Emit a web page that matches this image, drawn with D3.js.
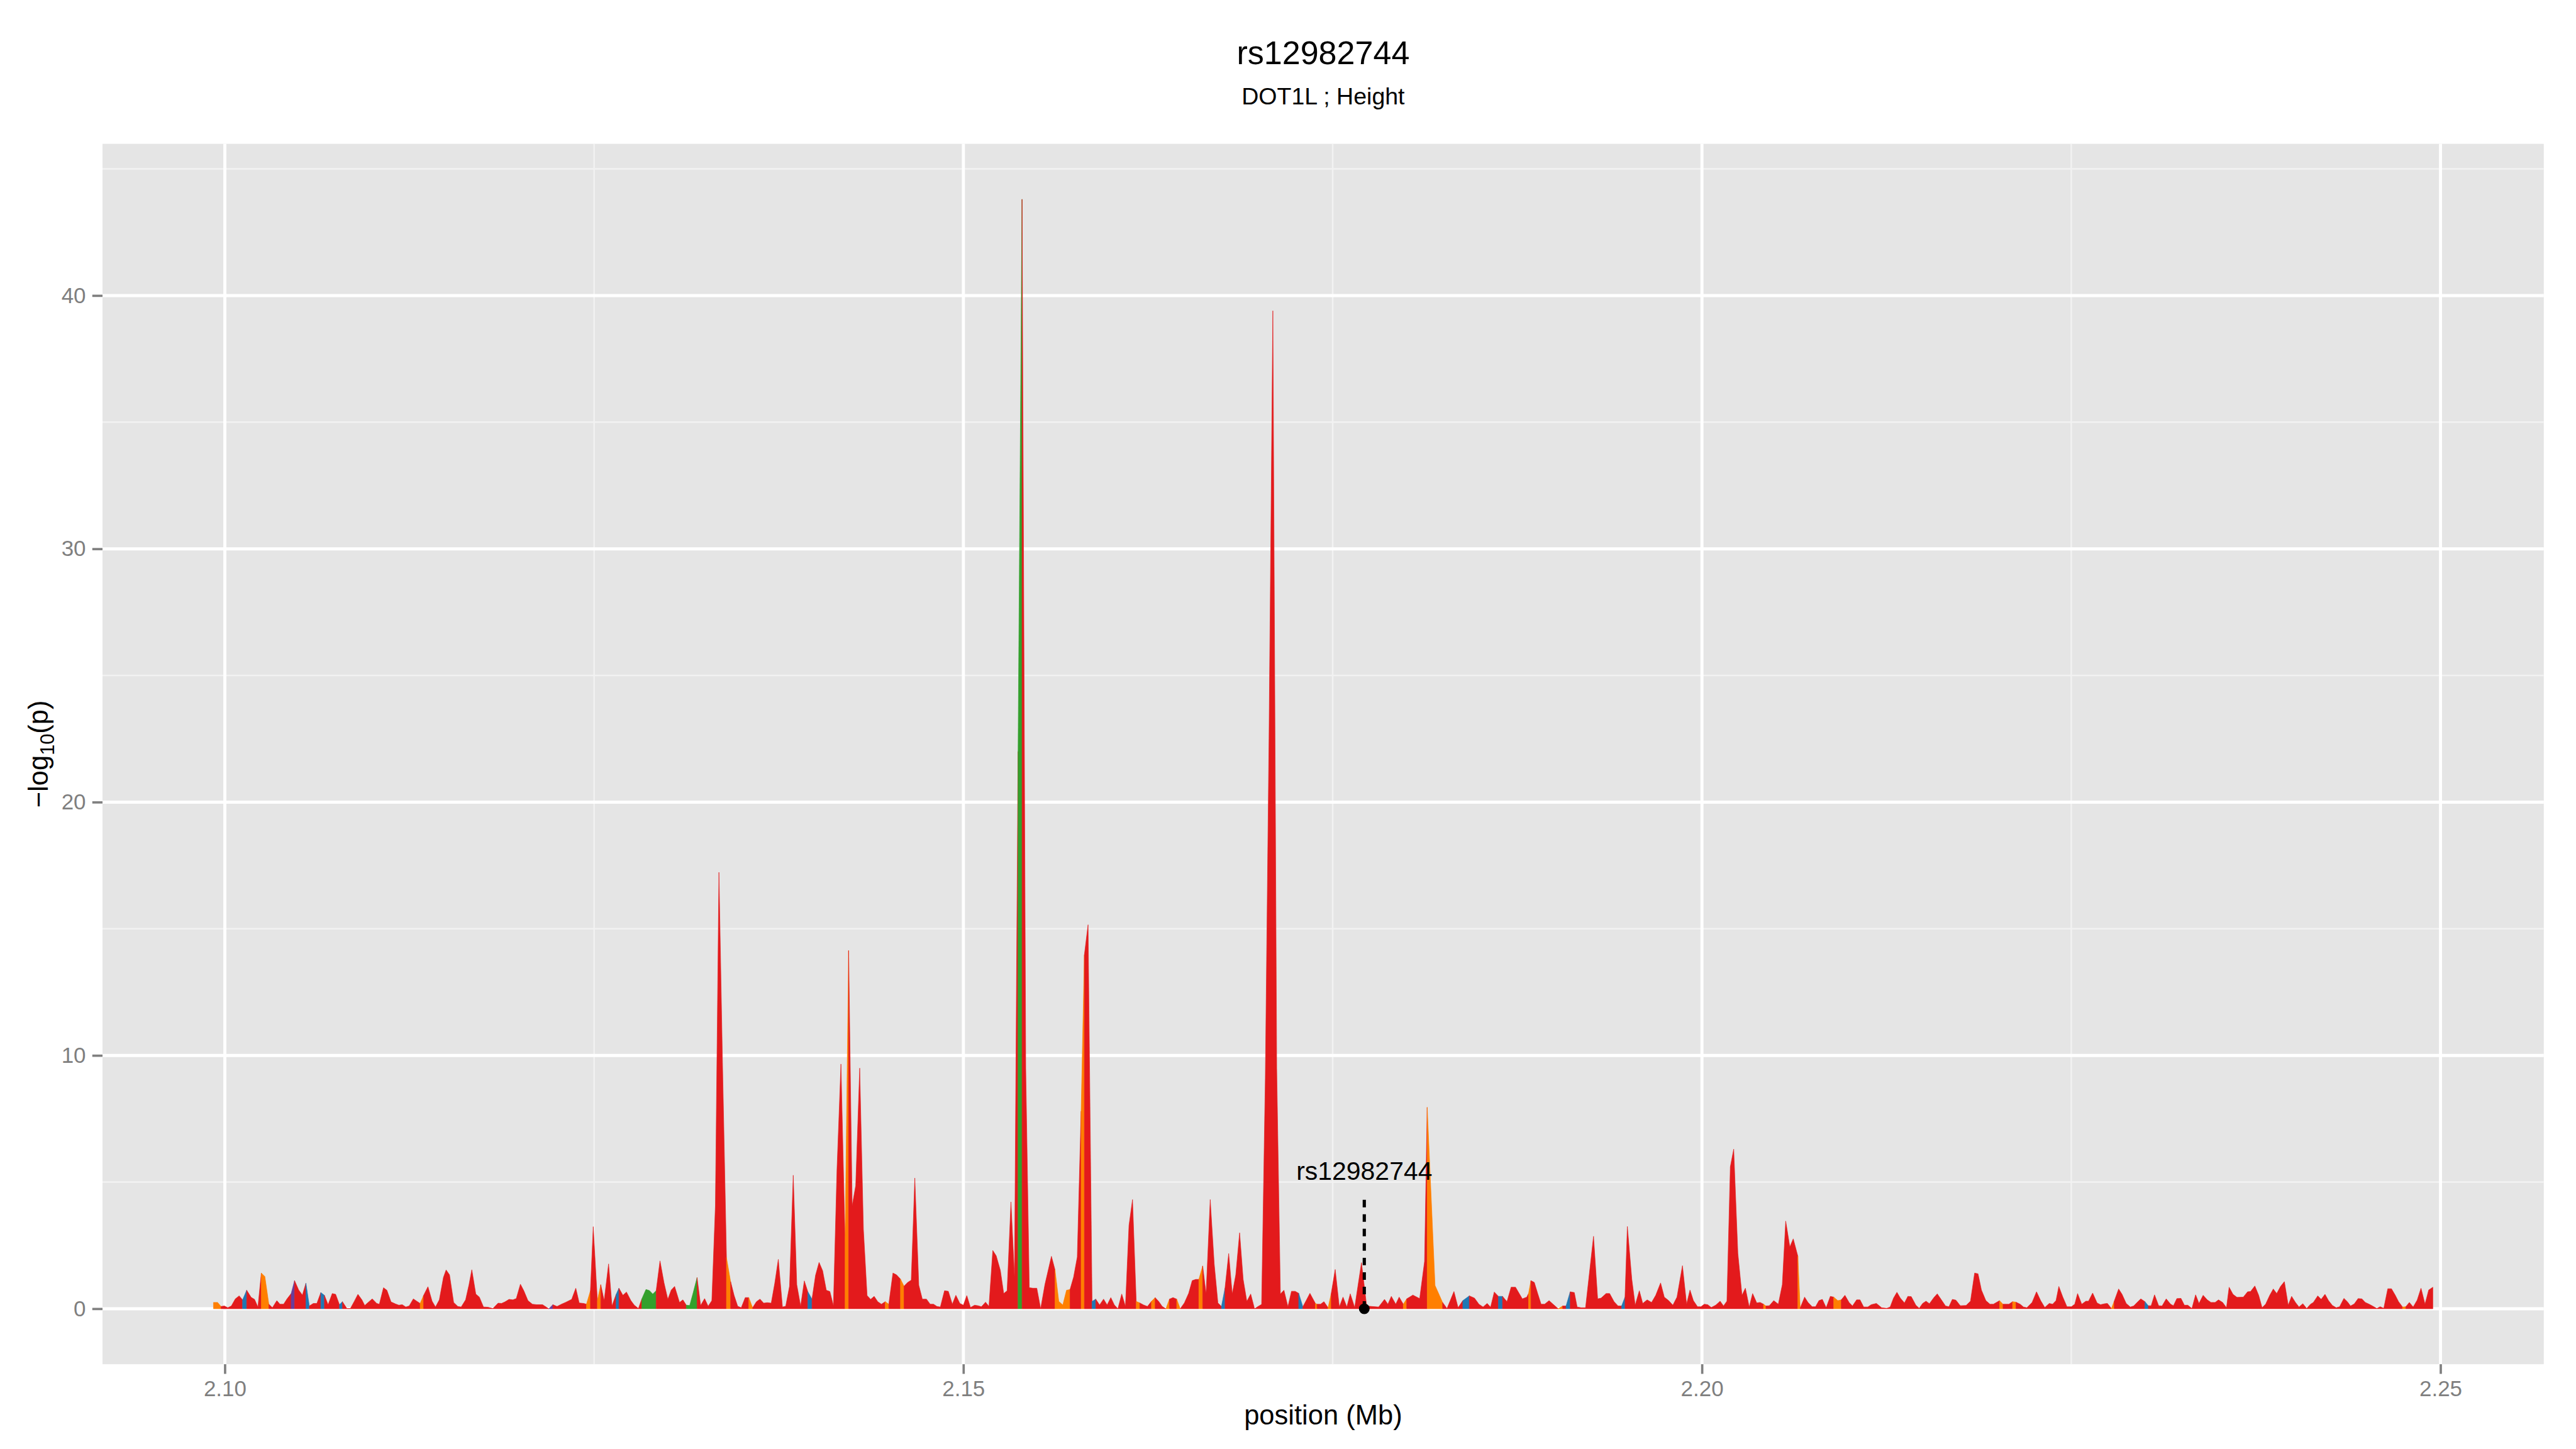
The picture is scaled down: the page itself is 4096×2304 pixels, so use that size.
<!DOCTYPE html>
<html>
<head>
<meta charset="utf-8">
<script src="https://cdn.jsdelivr.net/npm/d3@7"></script>
<style>
  html, body { margin: 0; padding: 0; background: #ffffff; }
  svg { display: block; }
  text { font-family: "Liberation Sans", Arial, Helvetica, sans-serif; }
</style>
</head>
<body>
<div id="chart"></div>
<script>
// chart texts
const titleText = "rs12982744";
const subtitleText = "DOT1L ; Height";
const xTitle = "position (Mb)";

// tick values
const xTicks = [2.10, 2.15, 2.20, 2.25];
const xMinorTicks = [2.125, 2.175, 2.225];
const yTicks = [0, 10, 20, 30, 40];
const yMinorTicks = [5, 15, 25, 35, 45];

// LD bins (R = highest ... P = lowest)
const ldBins = ["R", "O", "G", "B", "P"];
const ldColours = ["#E31A1C", "#FF7F00", "#33A02C", "#1F78B4", "#6A3D9A"];

// lead SNP
const leadSnp = "rs12982744";
const leadSnpKb = 2177.14;
const leadSnpLogP = 0;

// SNPs: [position (kb), -log10(p), LD bin]
const snpsWest = [
  [2099.23,0.25,"O"],[2099.51,0.25,"O"],[2099.74,0.09,"R"],[2099.97,0.11,"R"],[2100.20,0.04,"R"],[2100.44,0.11,"R"],
  [2100.71,0.39,"R"],[2100.97,0.51,"R"],[2101.20,0.35,"B"],[2101.48,0.73,"R"],[2101.78,0.45,"R"],[2102.01,0.37,"R"],
  [2102.24,0.07,"R"],[2102.47,1.41,"O"],[2102.71,1.27,"O"],[2102.98,0.18,"R"],[2103.22,0.04,"R"],[2103.52,0.32,"R"],
  [2103.73,0.18,"R"],[2103.98,0.18,"R"],[2104.21,0.39,"R"],[2104.49,0.60,"P"],[2104.72,1.11,"R"],[2105.00,0.74,"R"],
  [2105.25,0.54,"R"],[2105.49,1.01,"B"],[2105.72,0.11,"R"],[2105.99,0.21,"R"],[2106.23,0.21,"R"],[2106.50,0.64,"B"],
  [2106.74,0.53,"R"],[2106.99,0.16,"R"],[2107.27,0.60,"R"],[2107.50,0.57,"R"],[2107.76,0.16,"B"],[2107.96,0.28,"R"],
  [2108.26,0.01,"R"],[2108.50,0.01,"R"],[2108.77,0.30,"R"],[2109.01,0.57,"R"],[2109.28,0.35,"R"],[2109.47,0.13,"R"],
  [2109.70,0.25,"R"],[2109.98,0.39,"R"],[2110.28,0.21,"R"],[2110.46,0.18,"R"],[2110.74,0.83,"R"],[2110.97,0.73,"R"],
  [2111.25,0.27,"R"],[2111.55,0.19,"R"],[2111.78,0.14,"R"],[2112.01,0.16,"R"],[2112.25,0.07,"R"],[2112.48,0.11,"R"],
  [2112.76,0.39,"R"],[2112.99,0.30,"R"],[2113.22,0.21,"O"],[2113.45,0.52,"R"],[2113.75,0.87,"R"],[2114.03,0.30,"R"],
  [2114.26,0.07,"R"],[2114.52,0.35,"R"],[2114.80,1.24,"R"],[2114.98,1.53,"R"],[2115.21,1.34,"R"],[2115.49,0.25,"R"],
  [2115.77,0.09,"R"],[2116.00,0.07,"R"],[2116.30,0.35,"R"],[2116.53,0.95,"R"],[2116.72,1.54,"R"],[2116.99,0.58,"R"],
  [2117.23,0.46,"R"],[2117.51,0.07,"R"],[2117.81,0.06,"R"],[2118.15,0.01,"R"],[2118.50,0.22,"R"],[2118.73,0.21,"R"],
  [2118.96,0.27,"R"],[2119.24,0.37,"R"],[2119.50,0.35,"R"],[2119.73,0.40,"R"],[2120.01,0.97,"R"],[2120.24,0.71,"R"],
  [2120.52,0.32,"R"],[2120.82,0.18,"R"],[2121.10,0.16,"R"],[2121.51,0.16,"R"],[2121.93,0.00,"P"],[2122.21,0.16,"R"],
  [2122.49,0.09,"R"],[2122.79,0.18,"R"],[2123.06,0.25,"R"],[2123.48,0.37,"R"],[2123.76,0.81,"R"],[2123.99,0.23,"R"],
  [2124.29,0.21,"R"],[2124.48,0.18,"O"],[2124.75,0.71,"R"],[2124.94,3.24,"R"],[2125.22,0.32,"O"],[2125.45,0.95,"R"],
  [2125.68,0.32,"R"],[2125.98,1.77,"R"],[2126.21,0.11,"R"],[2126.49,0.57,"B"],[2126.68,0.81,"R"],[2126.95,0.53,"R"],
  [2127.19,0.66,"R"],[2127.49,0.32,"R"],[2127.72,0.14,"R"],[2128.00,0.01,"R"],[2128.23,0.39,"G"],[2128.51,0.76,"G"],
  [2128.74,0.72,"G"],[2128.97,0.58,"G"],[2129.20,0.71,"R"],[2129.46,1.89,"R"],[2129.73,1.03,"R"],[2129.99,0.37,"R"],
  [2130.22,0.74,"R"],[2130.45,0.88,"R"],[2130.78,0.25,"R"],[2131.01,0.35,"R"],[2131.24,0.14,"G"],[2131.47,0.13,"G"],
  [2131.70,0.62,"G"]
];

const snpsCluster = [
  [2131.97,1.23,"R"],[2132.21,0.13,"R"],[2132.48,0.40,"R"],[2132.72,0.10,"R"],[2132.97,0.32,"R"],[2133.21,4.07,"R"],
  [2133.45,17.23,"R"],[2133.69,9.72,"R"],[2133.96,2.02,"O"],[2134.24,1.07,"R"],[2134.48,0.52,"R"],[2134.72,0.10,"R"],
  [2134.96,0.04,"R"],[2135.23,0.44,"R"],[2135.47,0.44,"O"],[2135.73,0.04,"R"],[2135.99,0.28,"R"],[2136.23,0.38,"R"],
  [2136.48,0.22,"R"],[2136.72,0.24,"R"],[2136.99,0.22,"R"],[2137.23,1.01,"R"],[2137.47,1.95,"R"],[2137.75,0.07,"R"],
  [2137.97,0.10,"R"],[2138.23,0.89,"R"],[2138.48,5.27,"R"],[2138.72,0.95,"R"],[2138.98,0.10,"R"],[2139.23,1.10,"R"],
  [2139.47,0.67,"B"],[2139.75,0.38,"R"],[2139.99,1.32,"R"],[2140.23,1.83,"R"],[2140.47,1.50,"R"],[2140.72,0.73,"R"],
  [2140.96,0.68,"R"],[2141.20,0.12,"R"],[2141.44,5.46,"R"],[2141.71,9.66,"R"],[2141.99,2.65,"O"],[2142.23,14.14,"R"],
  [2142.47,4.06,"R"],[2142.71,4.86,"R"],[2142.98,9.50,"R"],[2143.23,3.14,"R"],[2143.48,0.52,"R"],[2143.72,0.37,"R"],
  [2143.96,0.49,"R"],[2144.20,0.28,"R"],[2144.45,0.18,"R"],[2144.71,0.28,"O"],[2144.95,0.18,"R"],[2145.23,1.41,"R"],
  [2145.47,1.34,"R"],[2145.74,1.17,"O"],[2145.98,0.89,"R"],[2146.23,1.04,"R"],[2146.47,1.13,"R"],[2146.71,5.16,"R"],
  [2146.98,0.93,"R"],[2147.22,0.38,"R"],[2147.50,0.38,"R"]
];

const snpsTopPeak = [
  [2147.75,0.18,"R"],[2147.98,0.18,"R"],[2148.21,0.09,"R"],[2148.44,0.07,"R"],[2148.72,0.71,"R"],[2148.98,0.69,"R"],
  [2149.25,0.18,"R"],[2149.49,0.53,"R"],[2149.76,0.21,"R"],[2150.00,0.14,"R"],[2150.23,0.52,"R"],[2150.48,0.05,"R"],
  [2150.76,0.14,"R"],[2150.99,0.12,"R"],[2151.22,0.08,"R"],[2151.50,0.26,"R"],[2151.73,0.09,"R"],[2151.99,2.30,"R"],
  [2152.22,2.09,"R"],[2152.50,1.52,"R"],[2152.73,0.60,"R"],[2152.96,0.71,"R"],[2153.22,4.22,"R"],[2153.46,1.25,"R"],
  [2153.70,22.0,"G"],[2153.97,43.8,"R"],[2154.22,9.50,"R"],[2154.46,0.83,"R"],[2154.71,0.81,"R"],[2154.97,0.81,"R"],
  [2155.23,0.00,"R"],[2155.52,0.96,"R"],[2155.96,2.07,"R"],[2156.20,1.54,"O"],[2156.46,0.29,"O"],[2156.73,0.15,"O"],
  [2156.98,0.73,"O"],[2157.22,0.76,"R"],[2157.46,1.25,"R"],[2157.71,2.04,"R"],[2157.97,7.80,"O"],[2158.19,13.97,"R"],
  [2158.44,15.16,"R"],[2158.71,0.29,"B"],[2158.96,0.38,"R"],[2159.22,0.15,"R"],[2159.49,0.38,"R"],[2159.73,0.15,"R"],
  [2159.98,0.44,"R"],[2160.22,0.15,"R"],[2160.46,0.00,"R"],[2160.72,0.58,"R"],[2160.97,0.09,"R"],[2161.21,3.29,"R"],
  [2161.45,4.31,"R"],[2161.70,0.29,"O"],[2161.94,0.23,"R"],[2162.20,0.15,"R"],[2162.46,0.09,"R"],[2162.73,0.29,"O"],
  [2162.98,0.44,"R"],[2163.22,0.29,"R"],[2163.46,0.09,"R"],[2163.71,0.00,"O"],[2163.95,0.38,"R"],[2164.19,0.44,"R"],
  [2164.44,0.38,"O"],[2164.68,0.00,"R"],[2164.96,0.23,"R"],[2165.25,0.61,"R"],[2165.49,1.11,"R"],[2165.73,1.16,"R"],
  [2165.94,1.16,"O"],[2166.20,1.69,"R"],[2166.43,0.58,"R"],[2166.71,4.31,"R"],[2166.98,1.77,"R"],[2167.23,0.23,"R"],
  [2167.47,0.09,"B"],[2167.71,0.81,"R"],[2167.96,2.18,"R"],[2168.20,0.58,"R"],[2168.44,1.34,"R"],[2168.70,3.00,"R"],
  [2168.94,1.16,"R"],[2169.19,0.29,"R"],[2169.45,0.58,"R"],[2169.71,0.00,"R"],[2169.95,0.09,"R"],[2170.19,0.17,"R"],
  [2170.44,9.10,"R"],[2170.69,22.5,"R"],[2170.95,39.4,"R"],[2171.21,9.50,"R"],[2171.46,0.58,"R"],[2171.70,0.73,"R"],
  [2171.97,0.08,"R"],[2172.21,0.69,"R"],[2172.46,0.69,"R"],[2172.70,0.61,"B"],[2172.98,0.08,"R"],[2173.22,0.34,"R"],
  [2173.46,0.61,"R"]
];

const snpsMiddle = [
  [2173.83,0.21,"O"],[2173.94,0.18,"R"],[2174.18,0.18,"R"],[2174.41,0.28,"R"],[2174.69,0.04,"O"],[2174.90,0.60,"R"],
  [2175.17,1.55,"R"],[2175.45,0.07,"R"],[2175.70,0.46,"R"],[2175.96,0.07,"R"],[2176.19,0.59,"R"],[2176.49,0.05,"R"],
  [2176.95,1.82,"R"],[2177.30,0.11,"R"],[2177.65,0.09,"R"],[2178.11,0.07,"R"],[2178.51,0.37,"R"],[2178.74,0.18,"R"],
  [2178.97,0.49,"R"],[2179.27,0.18,"R"],[2179.50,0.46,"R"],[2179.78,0.18,"O"],[2180.01,0.39,"R"],[2180.43,0.54,"R"],
  [2180.89,0.40,"R"],[2181.22,1.87,"R"],[2181.40,7.95,"O"],[2181.93,0.92,"O"],[2182.44,0.25,"R"],[2182.74,0.01,"R"],
  [2183.21,0.68,"R"],[2183.49,0.04,"R"],[2183.81,0.32,"B"],[2184.25,0.51,"R"],[2184.60,0.42,"R"],[2184.90,0.18,"R"],
  [2185.18,0.07,"R"],[2185.46,0.21,"R"],[2185.69,0.06,"R"],[2185.94,0.66,"R"],[2186.22,0.49,"B"],[2186.50,0.49,"R"],
  [2186.80,0.28,"R"],[2187.08,0.85,"R"],[2187.38,0.85,"R"],[2187.84,0.39,"R"],[2188.14,0.46,"R"],[2188.26,0.60,"O"],
  [2188.42,1.11,"R"],[2188.65,1.04,"R"],[2188.88,0.60,"R"],[2189.11,0.18,"R"],[2189.35,0.18,"R"],[2189.65,0.32,"R"],
  [2189.92,0.18,"R"],[2190.27,0.00,"O"],[2190.57,0.11,"R"],[2190.80,0.11,"B"],[2191.08,0.67,"R"],[2191.36,0.64,"R"],
  [2191.55,0.07,"R"],[2191.82,0.04,"R"],[2192.12,0.04,"R"],[2192.66,2.86,"R"],[2192.94,0.39,"R"],[2193.17,0.42,"R"],
  [2193.51,0.60,"R"],[2193.75,0.60,"R"],[2194.05,0.28,"R"],[2194.32,0.11,"R"],[2194.56,0.11,"B"],[2194.79,0.46,"R"],
  [2194.95,3.25,"R"],[2195.25,1.17,"R"],[2195.48,0.14,"R"],[2195.76,0.71,"R"],[2195.99,0.21,"R"],[2196.29,0.35,"R"],
  [2196.59,0.25,"R"],[2196.87,0.53,"R"],[2197.20,1.02,"R"],[2197.45,0.46,"R"],[2197.75,0.32,"R"],[2198.03,0.14,"R"],
  [2198.31,0.46,"R"],[2198.68,1.70,"R"],[2198.96,0.18,"R"],[2199.19,0.74,"R"]
];

const snpsEast = [
  [2199.42,0.32,"R"],[2199.70,0.08,"R"],[2199.93,0.08,"R"],[2200.16,0.18,"R"],[2200.39,0.16,"R"],[2200.63,0.05,"R"],
  [2200.93,0.14,"R"],[2201.23,0.30,"R"],[2201.46,0.11,"R"],[2201.69,0.30,"R"],[2201.92,5.60,"R"],[2202.15,6.30,"R"],
  [2202.43,2.19,"R"],[2202.71,0.53,"R"],[2202.94,0.81,"R"],[2203.20,0.07,"R"],[2203.43,0.60,"R"],[2203.71,0.23,"R"],
  [2203.94,0.25,"R"],[2204.17,0.18,"O"],[2204.33,0.11,"R"],[2204.56,0.12,"R"],[2204.86,0.32,"R"],[2205.17,0.18,"R"],
  [2205.44,0.95,"R"],[2205.67,3.46,"R"],[2205.95,2.44,"R"],[2206.18,2.76,"R"],[2206.49,2.08,"O"],[2206.65,0.03,"R"],
  [2206.95,0.46,"R"],[2207.18,0.25,"R"],[2207.46,0.08,"R"],[2207.69,0.08,"R"],[2207.92,0.32,"R"],[2208.15,0.37,"R"],
  [2208.41,0.04,"R"],[2208.69,0.49,"R"],[2208.92,0.46,"O"],[2209.20,0.32,"O"],[2209.43,0.35,"R"],[2209.68,0.53,"R"],
  [2209.96,0.25,"R"],[2210.19,0.11,"R"],[2210.47,0.35,"R"],[2210.70,0.35,"R"],[2210.95,0.07,"R"],[2211.23,0.07,"R"],
  [2211.46,0.16,"R"],[2211.81,0.21,"R"],[2212.16,0.04,"R"],[2212.51,0.02,"R"],[2212.74,0.07,"R"],[2212.97,0.42,"R"],
  [2213.20,0.65,"R"],[2213.43,0.42,"R"],[2213.71,0.23,"R"],[2213.94,0.49,"R"],[2214.17,0.48,"R"],[2214.48,0.14,"R"],
  [2214.71,0.02,"R"],[2214.94,0.21,"R"],[2215.17,0.30,"R"],[2215.40,0.20,"R"],[2215.70,0.44,"R"],[2215.93,0.59,"R"],
  [2216.21,0.35,"R"],[2216.49,0.11,"R"],[2216.72,0.08,"R"],[2216.95,0.37,"R"],[2217.19,0.34,"R"],[2217.49,0.12,"R"],
  [2217.88,0.13,"R"],[2218.18,0.30,"R"],[2218.46,1.41,"R"],[2218.69,1.38,"R"],[2218.92,0.74,"R"],[2219.22,0.32,"R"],
  [2219.50,0.18,"R"],[2219.73,0.18,"R"],[2220.15,0.32,"O"],[2220.38,0.18,"R"],[2220.78,0.18,"R"],[2221.03,0.28,"O"],
  [2221.26,0.26,"R"],[2221.54,0.18,"R"],[2221.77,0.07,"R"],[2222.00,0.04,"R"],[2222.35,0.25,"R"],[2222.65,0.67,"R"],
  [2222.93,0.32,"R"],[2223.21,0.05,"R"],[2223.51,0.21,"R"],[2223.74,0.18,"R"],[2223.97,0.32,"R"],[2224.16,0.88,"R"],
  [2224.43,0.46,"R"],[2224.71,0.08,"R"],[2225.01,0.08,"R"],[2225.24,0.18,"R"],[2225.43,0.60,"R"],[2225.71,0.18,"R"],
  [2225.99,0.30,"R"],[2226.17,0.30,"R"],[2226.45,0.62,"R"],[2226.75,0.23,"R"],[2226.98,0.16,"R"],[2227.28,0.20,"R"],
  [2227.45,0.21,"R"],[2227.72,0.01,"O"],[2227.91,0.30,"R"],[2228.21,0.78,"R"],[2228.44,0.57,"R"],[2228.72,0.21,"R"],
  [2229.00,0.07,"R"],[2229.23,0.11,"R"],[2229.46,0.25,"R"],[2229.71,0.39,"R"],[2229.99,0.28,"B"],[2230.22,0.12,"R"],
  [2230.41,0.12,"R"],[2230.64,0.55,"R"],[2230.92,0.12,"R"],[2231.15,0.11,"R"],[2231.43,0.39,"R"],[2231.73,0.18,"R"],
  [2231.92,0.12,"R"],[2232.15,0.40,"R"],[2232.43,0.41,"R"],[2232.66,0.14,"R"],[2232.89,0.14,"R"],[2233.17,0.01,"R"],
  [2233.42,0.55,"R"],[2233.65,0.21,"R"],[2233.93,0.53,"R"],[2234.21,0.35,"R"],[2234.46,0.25,"R"],[2234.74,0.25,"R"],
  [2234.97,0.35,"R"],[2235.25,0.25,"R"],[2235.51,0.04,"R"]
];

const snpsTail = [
  [2235.69,0.85,"R"],[2235.95,0.57,"R"],[2236.22,0.45,"R"],[2236.65,0.46,"R"],[2236.94,0.67,"R"],[2237.14,0.68,"R"],
  [2237.43,0.90,"R"],[2237.69,0.53,"R"],[2237.92,0.04,"R"],[2238.16,0.18,"R"],[2238.44,0.53,"R"],[2238.68,0.78,"R"],
  [2238.91,0.60,"R"],[2239.17,0.88,"R"],[2239.43,1.07,"R"],[2239.69,0.14,"R"],[2239.92,0.49,"R"],[2240.18,0.25,"R"],
  [2240.42,0.07,"R"],[2240.68,0.20,"R"],[2240.94,0.01,"R"],[2241.20,0.18,"R"],[2241.39,0.25,"R"],[2241.69,0.51,"R"],
  [2241.92,0.37,"R"],[2242.18,0.57,"R"],[2242.42,0.32,"R"],[2242.68,0.13,"R"],[2242.94,0.04,"R"],[2243.17,0.08,"R"],
  [2243.46,0.41,"R"],[2243.69,0.28,"R"],[2243.91,0.11,"R"],[2244.16,0.19,"R"],[2244.42,0.40,"R"],[2244.68,0.39,"R"],
  [2244.91,0.25,"R"],[2245.17,0.18,"R"],[2245.39,0.11,"R"],[2245.69,0.01,"R"],[2245.91,0.08,"R"],[2246.16,0.02,"R"],
  [2246.43,0.79,"R"],[2246.68,0.79,"R"],[2246.92,0.55,"R"],[2247.16,0.28,"R"],[2247.43,0.07,"O"],[2247.65,0.08,"R"],
  [2247.89,0.25,"R"],[2248.15,0.07,"R"],[2248.42,0.34,"R"],[2248.68,0.81,"R"],[2248.95,0.18,"R"],[2249.20,0.74,"R"],
  [2249.48,0.85,"R"]
];

// layout, in reference pixels (4800 x 2700); the svg viewBox scales it to the window
const W = 4800, H = 2700;
const panel = { left: 191, right: 4740, top: 268, bottom: 2542 };
const tickCol = "#7F7F7F";

const snps = [].concat(snpsWest, snpsCluster, snpsTopPeak, snpsMiddle, snpsEast, snpsTail)
  .map(d => ({ pos: d[0] / 1000, logp: d[1], ld: d[2] }));

const colourOf = d3.scaleOrdinal().domain(ldBins).range(ldColours);

const svg = d3.select("#chart")
  .append("svg")
  .attr("width", 4096)
  .attr("height", 2304)
  .attr("viewBox", `0 0 ${W} ${H}`);

svg.append("rect").attr("width", W).attr("height", H).attr("fill", "#ffffff");

// ggplot-style 5% expansion
const [xMin, xMax] = d3.extent(snps, d => d.pos);
const xPad = (xMax - xMin) * 0.05;
const x = d3.scaleLinear().domain([xMin - xPad, xMax + xPad]).range([panel.left, panel.right]);

const yMax = d3.max(snps, d => d.logp);
const yPad = yMax * 0.05;
const y = d3.scaleLinear().domain([-yPad, yMax + yPad]).range([panel.bottom, panel.top]);

// panel background and grid
svg.append("rect")
  .attr("x", panel.left).attr("y", panel.top)
  .attr("width", panel.right - panel.left).attr("height", panel.bottom - panel.top)
  .attr("fill", "#E5E5E5");

const grid = svg.append("g");
grid.selectAll(".vminor").data(xMinorTicks).join("line")
  .attr("x1", d => x(d)).attr("x2", d => x(d))
  .attr("y1", panel.top).attr("y2", panel.bottom)
  .attr("stroke", "#F2F2F2").attr("stroke-width", 2.9);
grid.selectAll(".hminor").data(yMinorTicks).join("line")
  .attr("y1", d => y(d)).attr("y2", d => y(d))
  .attr("x1", panel.left).attr("x2", panel.right)
  .attr("stroke", "#F2F2F2").attr("stroke-width", 2.9);
grid.selectAll(".vmajor").data(xTicks).join("line")
  .attr("x1", d => x(d)).attr("x2", d => x(d))
  .attr("y1", panel.top).attr("y2", panel.bottom)
  .attr("stroke", "#ffffff").attr("stroke-width", 5.7);
grid.selectAll(".hmajor").data(yTicks).join("line")
  .attr("y1", d => y(d)).attr("y2", d => y(d))
  .attr("x1", panel.left).attr("x2", panel.right)
  .attr("stroke", "#ffffff").attr("stroke-width", 5.7);

// split the area into runs of the same LD colour (segment i -> i+1 takes the colour of point i)
const runs = [];
let start = 0;
for (let i = 1; i < snps.length; i++) {
  if (snps[i].ld !== snps[start].ld || i === snps.length - 1) {
    runs.push({ ld: snps[start].ld, pts: snps.slice(start, i + 1) });
    start = i;
  }
}

const area = d3.area()
  .x(d => x(d.pos))
  .y0(y(0))
  .y1(d => y(d.logp));

svg.append("g")
  .selectAll("path")
  .data(runs)
  .join("path")
  .attr("d", d => area(d.pts))
  .attr("fill", d => colourOf(d.ld))
  .attr("stroke", d => colourOf(d.ld))
  .attr("stroke-width", 0.8)
  .attr("stroke-linejoin", "miter");

// lead SNP marker
const snpX = x(leadSnpKb / 1000);
svg.append("line")
  .attr("x1", snpX).attr("x2", snpX)
  .attr("y1", y(leadSnpLogP)).attr("y2", y(leadSnpLogP + 4.37))
  .attr("stroke", "#000000")
  .attr("stroke-width", 6)
  .attr("stroke-dasharray", "14,13");

svg.append("circle")
  .attr("cx", snpX).attr("cy", y(leadSnpLogP))
  .attr("r", 10)
  .attr("fill", "#000000");

svg.append("text")
  .attr("x", snpX).attr("y", y(leadSnpLogP + 5.1))
  .attr("text-anchor", "middle")
  .attr("font-size", 48)
  .attr("fill", "#000000")
  .text(leadSnp);

// axes
const xAxis = svg.append("g")
  .attr("transform", `translate(0,${panel.bottom})`)
  .call(d3.axisBottom(x).tickValues(xTicks).tickFormat(d3.format(".2f")).tickSize(18).tickPadding(13));
xAxis.select(".domain").remove();
xAxis.selectAll("line").attr("stroke", tickCol).attr("stroke-width", 4.3);
xAxis.selectAll("text").attr("fill", tickCol).attr("font-size", 41)
  .attr("font-family", "'Liberation Sans', Arial, Helvetica, sans-serif");

const yAxis = svg.append("g")
  .attr("transform", `translate(${panel.left},0)`)
  .call(d3.axisLeft(y).tickValues(yTicks).tickFormat(d3.format("d")).tickSize(19).tickPadding(12));
yAxis.select(".domain").remove();
yAxis.selectAll("line").attr("stroke", tickCol).attr("stroke-width", 4.3);
yAxis.selectAll("text").attr("fill", tickCol).attr("font-size", 41)
  .attr("font-family", "'Liberation Sans', Arial, Helvetica, sans-serif");

// titles
const midX = (panel.left + panel.right) / 2;
svg.append("text")
  .attr("x", midX).attr("y", 119)
  .attr("text-anchor", "middle")
  .attr("font-size", 61)
  .attr("fill", "#000000")
  .text(titleText);

svg.append("text")
  .attr("x", midX).attr("y", 195)
  .attr("text-anchor", "middle")
  .attr("font-size", 44)
  .attr("fill", "#000000")
  .text(subtitleText);

svg.append("text")
  .attr("x", midX).attr("y", 2654)
  .attr("text-anchor", "middle")
  .attr("font-size", 51)
  .attr("fill", "#000000")
  .text(xTitle);

const yTitle = svg.append("text")
  .attr("transform", `translate(89,${(panel.top + panel.bottom) / 2}) rotate(-90)`)
  .attr("text-anchor", "middle")
  .attr("font-size", 51)
  .attr("fill", "#000000");
yTitle.append("tspan").text("\u2212log");
yTitle.append("tspan").attr("font-size", 36).attr("dy", 12).text("10");
yTitle.append("tspan").attr("dy", -12).text("(p)");
</script>
</body>
</html>
